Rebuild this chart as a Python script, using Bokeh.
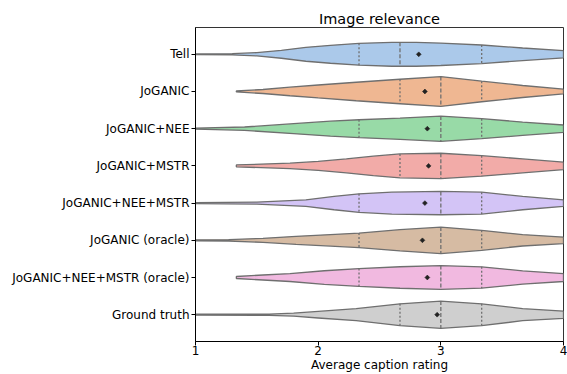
import colorsys
import numpy as np
from bokeh.plotting import figure
from bokeh.models import Range1d, FixedTicker
from bokeh.embed import file_html
from bokeh.resources import INLINE

categories = ["Tell", "JoGANIC", "JoGANIC+NEE", "JoGANIC+MSTR", "JoGANIC+NEE+MSTR",
              "JoGANIC (oracle)", "JoGANIC+NEE+MSTR (oracle)", "Ground truth"]

# violin density profiles: rating grid and half-width (in category units)
tell_x = [1.0, 1.3, 1.5, 1.7, 1.9, 2.1, 2.333, 2.6, 2.8, 3.0, 3.333, 3.667, 4.0]
tell_w = [0.008, 0.016, 0.045, 0.107, 0.187, 0.241, 0.294, 0.321, 0.321, 0.302, 0.249, 0.169, 0.099]

joganic_x = [1.333, 1.55, 1.77, 2.0, 2.31, 2.667, 3.0, 3.333, 3.667, 4.0]
joganic_w = [0.013, 0.054, 0.115, 0.174, 0.249, 0.329, 0.401, 0.276, 0.161, 0.062]

nee_x = [1.0, 1.4, 1.8, 2.1, 2.333, 2.667, 3.0, 3.333, 3.667, 4.0]
nee_w = [0.013, 0.045, 0.134, 0.201, 0.241, 0.286, 0.340, 0.268, 0.179, 0.099]

mstr_x = [1.333, 1.77, 2.0, 2.23, 2.45, 2.667, 3.0, 3.333, 3.667, 4.0]
mstr_w = [0.027, 0.072, 0.120, 0.187, 0.262, 0.321, 0.340, 0.276, 0.187, 0.099]

nee_mstr_x = [1.0, 1.5, 1.9, 2.13, 2.333, 2.6, 3.0, 3.333, 3.667, 4.0]
nee_mstr_w = [0.013, 0.027, 0.088, 0.179, 0.249, 0.294, 0.313, 0.294, 0.179, 0.088]

oracle_x = [1.0, 1.27, 1.55, 1.82, 2.1, 2.333, 2.667, 3.0, 3.333, 3.667, 4.0]
oracle_w = [0.013, 0.019, 0.054, 0.107, 0.155, 0.195, 0.286, 0.356, 0.268, 0.153, 0.088]

nee_mstr_oracle_x = [1.333, 1.55, 1.77, 2.05, 2.333, 2.667, 3.0, 3.333, 3.667, 4.0]
nee_mstr_oracle_w = [0.027, 0.067, 0.107, 0.182, 0.241, 0.289, 0.321, 0.286, 0.179, 0.107]

gt_x = [1.0, 1.6, 1.8, 2.0, 2.31, 2.667, 3.0, 3.333, 3.667, 4.0]
gt_w = [0.013, 0.016, 0.040, 0.088, 0.161, 0.294, 0.367, 0.294, 0.161, 0.099]

means = [2.82, 2.87, 2.89, 2.90, 2.87, 2.85, 2.89, 2.97]
q1 = [2.333, 2.667, 2.333, 2.667, 2.333, 2.333, 2.333, 2.667]
medians = [2.667, 3.0, 3.0, 3.0, 3.0, 3.0, 3.0, 3.0]
q3 = [3.333, 3.333, 3.333, 3.333, 3.333, 3.333, 3.333, 3.333]

x_ticks = [1, 2, 3, 4]

base_colors = ["#a1c9f4", "#ffb482", "#8de5a1", "#ff9f9b", "#d0bbff", "#debb9b", "#fab0e4", "#cfcfcf"]


def desaturate(hexc, prop=0.75):
    r, g, b = (int(hexc[i:i + 2], 16) / 255 for i in (1, 3, 5))
    h, l, s = colorsys.rgb_to_hls(r, g, b)
    r, g, b = colorsys.hls_to_rgb(h, l, s * prop)
    return "#%02x%02x%02x" % (round(r * 255), round(g * 255), round(b * 255))


colors = [desaturate(c) for c in base_colors]
edge = "#6f6f6f"
FONT = "DejaVu Sans"

profiles_x = [tell_x, joganic_x, nee_x, mstr_x, nee_mstr_x, oracle_x, nee_mstr_oracle_x, gt_x]
profiles_w = [tell_w, joganic_w, nee_w, mstr_w, nee_mstr_w, oracle_w, nee_mstr_oracle_w, gt_w]

p = figure(width=567, height=374, output_backend="svg", toolbar_location=None,
           x_range=Range1d(1, 4), y_range=Range1d(7.72, -0.72),
           min_border_left=195, min_border_right=4, min_border_top=27, min_border_bottom=31,
           title="Image relevance")
p.title.align = "center"
p.title.text_font = FONT
p.title.text_font_size = "14.5px"
p.title.text_font_style = "normal"
p.title.text_color = "black"
p.title.standoff = 1

p.xgrid.visible = False
p.ygrid.visible = False
p.background_fill_color = "white"
p.border_fill_color = "white"
p.outline_line_color = "#333333"
p.outline_line_width = 1

xs_all, ys_all = [], []
for i, (vx, vw) in enumerate(zip(profiles_x, profiles_w)):
    xs_all.append(list(vx) + list(vx[::-1]))
    ys_all.append([i - w for w in vw] + [i + w for w in vw[::-1]])
p.patches(xs=xs_all, ys=ys_all, fill_color=colors, line_color=edge, line_width=1.3)

# quartile lines
for vals, dash in ((q1, "2 2"), (q3, "2 2"), (medians, "4 2")):
    x0, y0, y1 = [], [], []
    for i, q in enumerate(vals):
        hw = float(np.interp(q, profiles_x[i], profiles_w[i]))
        x0.append(q)
        y0.append(i - hw)
        y1.append(i + hw)
    p.segment(x0=x0, y0=y0, x1=x0, y1=y1, line_color=edge, line_width=1.3, line_dash=dash)

p.scatter(x=means, y=list(range(len(categories))), marker="square", angle=np.pi / 4,
          size=3.4, fill_color="#222222", line_color="#222222", line_width=0.6)

xa = p.xaxis[0]
xa.ticker = FixedTicker(ticks=x_ticks)
xa.axis_label = "Average caption rating"
ya = p.yaxis[0]
ya.ticker = FixedTicker(ticks=list(range(len(categories))))
ya.major_label_overrides = {i: c for i, c in enumerate(categories)}
for ax in (xa, ya):
    ax.minor_tick_line_color = None
    ax.major_tick_in = 0
    ax.major_tick_out = 4
    ax.major_label_text_font = FONT
    ax.major_label_text_font_size = "12px"
    ax.major_label_text_color = "black"
    ax.axis_label_text_font = FONT
    ax.axis_label_text_font_size = "12px"
    ax.axis_label_text_font_style = "normal"
    ax.axis_label_text_color = "black"
    ax.axis_line_color = "black"
    ax.major_tick_line_color = "black"
xa.major_label_standoff = 0
xa.axis_label_standoff = 0
ya.major_label_standoff = 2

open("out.html", "w").write(file_html(p, INLINE))
